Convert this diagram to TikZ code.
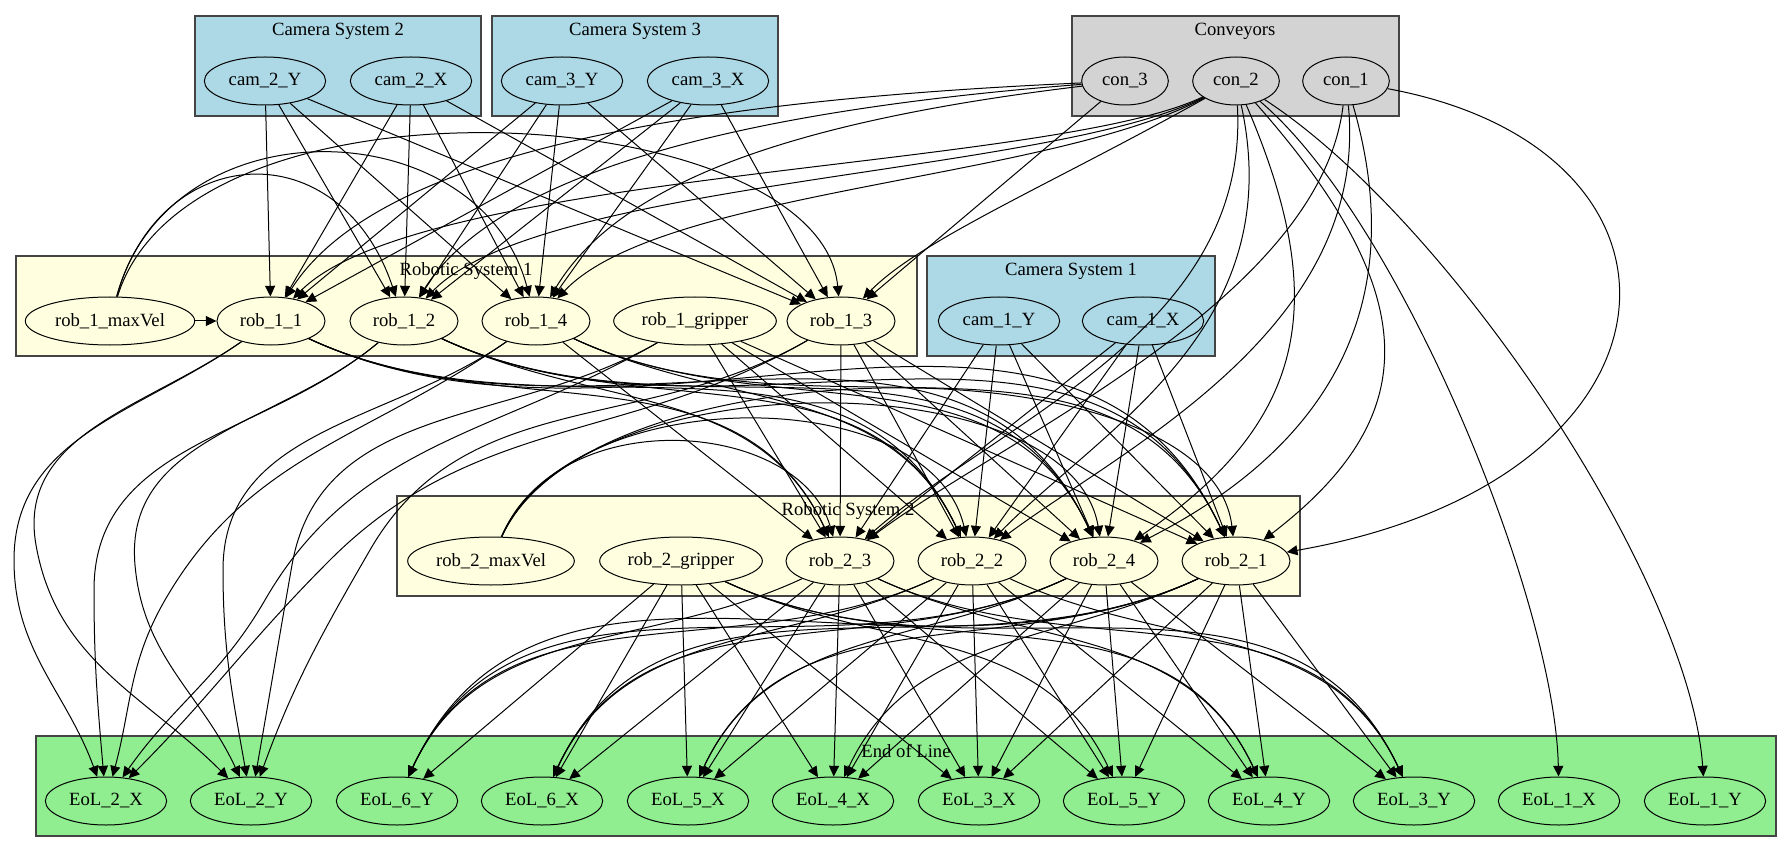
\documentclass[tikz,border=0pt]{standalone}
\usepackage{fontspec}
\setmainfont{Liberation Serif}
\usetikzlibrary{shapes.geometric,arrows.meta}
\definecolor{lblue}{RGB}{173,216,230}
\definecolor{lyellow}{RGB}{255,255,224}
\definecolor{lgrey}{RGB}{211,211,211}
\definecolor{lgreen}{RGB}{144,238,144}
\definecolor{clusline}{RGB}{68,68,68}
\begin{document}
\begin{tikzpicture}[x=0.75pt,y=-0.75pt,
  gv/.style={ellipse,draw=black,line width=0.75pt,inner sep=0pt,minimum height=36pt,font=\fontsize{14pt}{16pt}\selectfont},
  camn/.style={gv,fill=lblue,minimum width=91pt},
  conn/.style={gv,fill=lgrey,minimum width=65pt},
  robn/.style={gv,fill=lyellow,minimum width=81pt},
  eoln/.style={gv,fill=lgreen,minimum width=91pt},
  clus/.style={draw=clusline,line width=1pt},
  clab/.style={font=\fontsize{14pt}{16pt}\selectfont,inner sep=0pt},
  arr/.style={draw=black,line width=0.75pt,-{Triangle[length=8pt,width=7.5pt]}},
  swr/.style={out=-25,in=115},
  swl/.style={out=-155,in=65}]
\useasboundingbox (0,0) rectangle (1792,852);
\fill[white] (0,0) rectangle (1792,852);
% clusters
\draw[clus,fill=lblue] (195,16) rectangle (481,116);
\node[clab] (lcs2) at (338,31) {Camera System 2};
\draw[clus,fill=lblue] (492,16) rectangle (778,116);
\node[clab] (lcs3) at (635,31) {Camera System 3};
\draw[clus,fill=lgrey] (1072,16) rectangle (1399,116);
\node[clab] (lconv) at (1235,31) {Conveyors};
\draw[clus,fill=lyellow] (16,256) rectangle (917,356);
\node[clab] (lrs1) at (466,271) {Robotic System 1};
\draw[clus,fill=lblue] (927,256) rectangle (1215,356);
\node[clab] (lcs1) at (1071,271) {Camera System 1};
\draw[clus,fill=lyellow] (397,496) rectangle (1300,596);
\node[clab] (lrs2) at (848,511) {Robotic System 2};
\draw[clus,fill=lgreen] (36,736) rectangle (1776,836);
\node[clab] (leol) at (906,751) {End of Line};
% nodes rank 0
\node[camn] (cam_2_Y) at (265,81) {cam\_2\_Y};
\node[camn] (cam_2_X) at (411,81) {cam\_2\_X};
\node[camn] (cam_3_Y) at (562,81) {cam\_3\_Y};
\node[camn] (cam_3_X) at (708,81) {cam\_3\_X};
\node[conn] (con_3) at (1125,81) {con\_3};
\node[conn] (con_2) at (1236,81) {con\_2};
\node[conn] (con_1) at (1346,81) {con\_1};
% rank 1
\node[robn,minimum width=127pt] (rob_1_maxVel) at (110,321) {rob\_1\_maxVel};
\node[robn] (rob_1_1) at (271,321) {rob\_1\_1};
\node[robn] (rob_1_2) at (404,321) {rob\_1\_2};
\node[robn] (rob_1_4) at (536,321) {rob\_1\_4};
\node[robn,minimum width=122pt] (rob_1_gripper) at (695,321) {rob\_1\_gripper};
\node[robn] (rob_1_3) at (841,321) {rob\_1\_3};
\node[camn] (cam_1_Y) at (999,321) {cam\_1\_Y};
\node[camn] (cam_1_X) at (1143,321) {cam\_1\_X};
% rank 2
\node[robn,minimum width=125pt] (rob_2_maxVel) at (491,561) {rob\_2\_maxVel};
\node[robn,minimum width=122pt] (rob_2_gripper) at (681,561) {rob\_2\_gripper};
\node[robn] (rob_2_3) at (840,561) {rob\_2\_3};
\node[robn] (rob_2_2) at (972,561) {rob\_2\_2};
\node[robn] (rob_2_4) at (1104,561) {rob\_2\_4};
\node[robn] (rob_2_1) at (1236,561) {rob\_2\_1};
% rank 3
\node[eoln] (EoL_2_X) at (106,801) {EoL\_2\_X};
\node[eoln] (EoL_2_Y) at (251,801) {EoL\_2\_Y};
\node[eoln] (EoL_6_Y) at (397,801) {EoL\_6\_Y};
\node[eoln] (EoL_6_X) at (542,801) {EoL\_6\_X};
\node[eoln] (EoL_5_X) at (688,801) {EoL\_5\_X};
\node[eoln] (EoL_4_X) at (833,801) {EoL\_4\_X};
\node[eoln] (EoL_3_X) at (979,801) {EoL\_3\_X};
\node[eoln] (EoL_5_Y) at (1124,801) {EoL\_5\_Y};
\node[eoln] (EoL_4_Y) at (1269,801) {EoL\_4\_Y};
\node[eoln] (EoL_3_Y) at (1414,801) {EoL\_3\_Y};
\node[eoln] (EoL_1_X) at (1559,801) {EoL\_1\_X};
\node[eoln] (EoL_1_Y) at (1705,801) {EoL\_1\_Y};
% waypoints for long edges
\coordinate (w11x) at (14,560);
\coordinate (w11y) at (36,545);
\coordinate (w12x) at (94,590);
\coordinate (w12y) at (135,565);
\coordinate (w14x) at (165,600);
\coordinate (w14y) at (223,570);
\coordinate (wgx) at (265,600);
\coordinate (wgy) at (292,565);
\coordinate (w13x) at (330,560);
\coordinate (w13y) at (370,550);
% maxVel edges
\draw[arr] (rob_1_maxVel) -- (rob_1_1);
\draw[arr] (rob_1_maxVel) .. controls (160,140) and (340,130) .. (rob_1_2);
\draw[arr] (rob_1_maxVel) .. controls (170,100) and (480,110) .. (rob_1_4);
\draw[arr] (rob_1_maxVel) .. controls (190,60) and (820,100) .. (rob_1_3);
\draw[arr] (rob_2_maxVel) .. controls (560,400) and (800,420) .. (rob_2_3);
\draw[arr] (rob_2_maxVel) .. controls (570,380) and (930,380) .. (rob_2_2);
\draw[arr] (rob_2_maxVel) .. controls (580,360) and (1070,360) .. (rob_2_4);
\draw[arr] (rob_2_maxVel) .. controls (590,340) and (1210,340) .. (rob_2_1);
% cameras
\foreach \s in {cam_2_Y,cam_2_X,cam_3_Y,cam_3_X}{
  \foreach \t in {rob_1_1,rob_1_2,rob_1_4,rob_1_3}{\draw[arr] (\s) -- (\t);}}
\foreach \s in {cam_1_Y,cam_1_X}{
  \foreach \t in {rob_2_3,rob_2_2,rob_2_4,rob_2_1}{\draw[arr] (\s) -- (\t);}}
% conveyors
\draw[arr] (con_3) .. controls (700,100) and (380,150) .. (rob_1_1);
\draw[arr] (con_3) .. controls (750,110) and (500,170) .. (rob_1_2);
\draw[arr] (con_3) .. controls (800,120) and (620,180) .. (rob_1_4);
\draw[arr] (con_3) -- (rob_1_3);
\draw[arr] (con_2) .. controls (1050,170) and (420,170) .. (rob_1_1);
\draw[arr] (con_2) .. controls (1050,175) and (540,180) .. (rob_1_2);
\draw[arr] (con_2) .. controls (1050,180) and (660,190) .. (rob_1_4);
\draw[arr] (con_2) .. controls (1050,185) and (920,240) .. (rob_1_3);
\draw[arr] (con_2) .. controls (1250,330) and (1000,420) .. (rob_2_3);
\draw[arr] (con_2) .. controls (1290,330) and (1100,430) .. (rob_2_2);
\draw[arr] (con_2) .. controls (1330,300) and (1310,420) .. (rob_2_4);
\draw[arr] (con_2) .. controls (1430,300) and (1420,420) .. (rob_2_1);
\draw[arr] (con_2) .. controls (1400,220) and (1555,600) .. (EoL_1_X);
\draw[arr] (con_2) .. controls (1450,220) and (1690,580) .. (EoL_1_Y);
\draw[arr] (con_1) .. controls (1320,300) and (1000,440) .. (rob_2_3);
\draw[arr] (con_1) .. controls (1370,330) and (1120,450) .. (rob_2_2);
\draw[arr] (con_1) .. controls (1395,250) and (1380,420) .. (rob_2_4);
\draw[arr] (con_1) .. controls (1720,150) and (1700,480) .. (rob_2_1);
% robot 1 -> robot 2
\foreach \s in {rob_1_1,rob_1_2}{
  \foreach \t in {rob_2_3,rob_2_2,rob_2_4,rob_2_1}{\draw[arr] (\s) to[swr] (\t);}}
\draw[arr] (rob_1_4) -- (rob_2_3);
\foreach \t in {rob_2_2,rob_2_4,rob_2_1}{\draw[arr] (rob_1_4) to[swr] (\t);}
\foreach \s in {rob_1_gripper,rob_1_3}{
  \foreach \t in {rob_2_3,rob_2_2,rob_2_4,rob_2_1}{\draw[arr] (\s) -- (\t);}}
% robot 1 -> EoL 2
\draw[arr] (rob_1_1) to[out=-145,in=90] (w11x) to[out=-90,in=110] (EoL_2_X);
\draw[arr] (rob_1_1) to[out=-145,in=100] (w11y) to[out=-80,in=135] (EoL_2_Y);
\draw[arr] (rob_1_2) to[out=-140,in=90] (w12x) to[out=-90,in=95] (EoL_2_X);
\draw[arr] (rob_1_2) to[out=-140,in=95] (w12y) to[out=-85,in=115] (EoL_2_Y);
\draw[arr] (rob_1_4) to[out=-145,in=60] (w14x) to[out=-120,in=75] (EoL_2_X);
\draw[arr] (rob_1_4) to[out=-145,in=90] (w14y) to[out=-90,in=100] (EoL_2_Y);
\draw[arr] (rob_1_gripper) to[out=-150,in=60] (wgx) to[out=-120,in=55] (EoL_2_X);
\draw[arr] (rob_1_gripper) to[out=-150,in=80] (wgy) to[out=-100,in=80] (EoL_2_Y);
\draw[arr] (rob_1_3) to[out=-150,in=45] (w13x) to[out=-135,in=45] (EoL_2_X);
\draw[arr] (rob_1_3) to[out=-150,in=60] (w13y) to[out=-120,in=70] (EoL_2_Y);
% robot 2 -> EoL
\foreach \t in {EoL_6_Y,EoL_6_X,EoL_5_X,EoL_4_X,EoL_3_X}{\draw[arr] (rob_2_gripper) -- (\t);}
\foreach \t in {EoL_5_Y,EoL_4_Y,EoL_3_Y}{\draw[arr] (rob_2_gripper) to[swr] (\t);}
\draw[arr] (rob_2_3) to[swl] (EoL_6_Y);
\foreach \t in {EoL_6_X,EoL_5_X,EoL_4_X,EoL_3_X,EoL_5_Y}{\draw[arr] (rob_2_3) -- (\t);}
\foreach \t in {EoL_4_Y,EoL_3_Y}{\draw[arr] (rob_2_3) to[swr] (\t);}
\foreach \t in {EoL_6_Y,EoL_6_X}{\draw[arr] (rob_2_2) to[swl] (\t);}
\foreach \t in {EoL_5_X,EoL_4_X,EoL_3_X,EoL_5_Y,EoL_4_Y}{\draw[arr] (rob_2_2) -- (\t);}
\draw[arr] (rob_2_2) to[swr] (EoL_3_Y);
\foreach \t in {EoL_6_Y,EoL_6_X,EoL_5_X}{\draw[arr] (rob_2_4) to[swl] (\t);}
\foreach \t in {EoL_4_X,EoL_3_X,EoL_5_Y,EoL_4_Y,EoL_3_Y}{\draw[arr] (rob_2_4) -- (\t);}
\foreach \t in {EoL_6_Y,EoL_6_X,EoL_5_X,EoL_4_X}{\draw[arr] (rob_2_1) to[swl] (\t);}
\foreach \t in {EoL_3_X,EoL_5_Y,EoL_4_Y,EoL_3_Y}{\draw[arr] (rob_2_1) -- (\t);}
\end{tikzpicture}
\end{document}
